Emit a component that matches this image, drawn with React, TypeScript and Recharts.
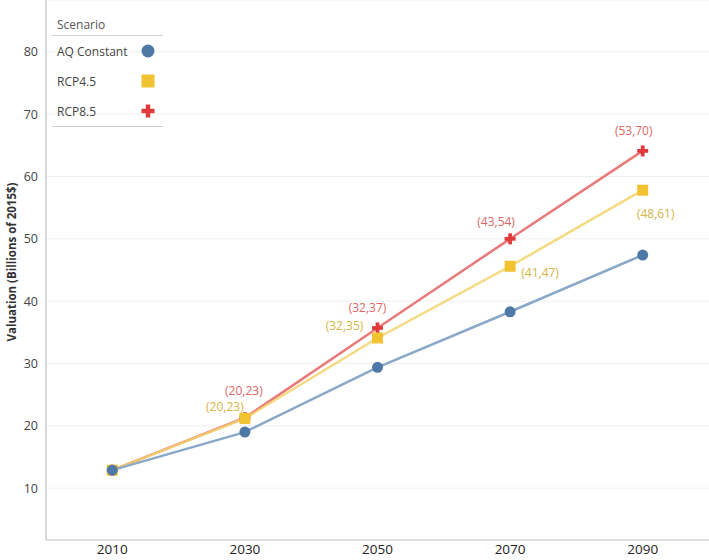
import React from "react";
import {
  LineChart,
  Line,
  XAxis,
  YAxis,
  CartesianGrid,
  Legend,
  LabelList,
} from "recharts";

const years = [2010, 2030, 2050, 2070, 2090];
const aqConstant = [12.9, 19.0, 29.4, 38.3, 47.4];
const rcp45 = [12.9, 21.2, 34.1, 45.6, 57.8];
const rcp85 = [12.9, 21.3, 35.7, 50.0, 64.1];
const rcp45Labels = ["", "(20,23)", "(32,35)", "(41,47)", "(48,61)"];
const rcp85Labels = ["", "(20,23)", "(32,37)", "(43,54)", "(53,70)"];
const yTicks = [10, 20, 30, 40, 50, 60, 70, 80];

const FONT = "'Open Sans', sans-serif";

// label placement around each point (dx, dy)
const offs45 = [[0, 0], [-20, -12], [-33, -12], [30, 6], [13, 23]];
const offs85 = [[0, 0], [-1, -27], [-10, -20], [-14, -17], [-9, -20]];

const data = years.map((year, i) => ({
  year,
  aq: aqConstant[i],
  r45: rcp45[i],
  r85: rcp85[i],
  l45: rcp45Labels[i],
  l85: rcp85Labels[i],
}));

const BLUE = "#4e79a7";
const GOLD = "#f1c232";
const RED = "#e03a3a";

function Marker({ kind, cx, cy, s = 11 }: { kind: string; cx: number; cy: number; s?: number }) {
  if (kind === "circle") return <circle cx={cx} cy={cy} r={s / 2} fill={BLUE} />;
  if (kind === "square")
    return <rect x={cx - s / 2} y={cy - s / 2} width={s} height={s} fill={GOLD} />;
  const t = s * 0.34;
  return (
    <g fill={RED}>
      <rect x={cx - s / 2} y={cy - t / 2} width={s} height={t} />
      <rect x={cx - t / 2} y={cy - s / 2} width={t} height={s} />
    </g>
  );
}

const dot = (kind: string) => (p: any) =>
  <Marker key={`${kind}-${p.index}`} kind={kind} cx={p.cx} cy={p.cy} />;

const pointLabel = (offs: number[][], color: string) => (p: any) => {
  if (!p.value) return null;
  const [dx, dy] = offs[p.index];
  return (
    <text
      x={p.x + dx}
      y={p.y + dy}
      textAnchor="middle"
      dominantBaseline="central"
      fill={color}
      fontSize={12}
      fontFamily={FONT}
    >
      {p.value}
    </text>
  );
};

const legendItems = [
  { name: "AQ Constant", kind: "circle" },
  { name: "RCP4.5", kind: "square" },
  { name: "RCP8.5", kind: "plus" },
];

function ScenarioLegend() {
  return (
    <div style={{ width: 111, fontFamily: FONT, fontSize: 12, color: "#444" }}>
      <div style={{ height: 20, lineHeight: "20px", paddingLeft: 5, color: "#555", borderBottom: "1px solid #cfcfcf" }}>
        Scenario
      </div>
      {legendItems.map((it) => (
        <div key={it.name} style={{ height: 30, display: "flex", alignItems: "center", paddingLeft: 5 }}>
          <span style={{ flex: 1 }}>{it.name}</span>
          <svg width={30} height={30}>
            <Marker kind={it.kind} cx={15} cy={15} s={13} />
          </svg>
        </div>
      ))}
      <div style={{ borderTop: "1px solid #cfcfcf" }} />
    </div>
  );
}

function YTitle() {
  const cx = 11;
  const cy = 262;
  return (
    <text
      x={cx}
      y={cy}
      transform={`rotate(-90, ${cx}, ${cy})`}
      textAnchor="middle"
      dominantBaseline="central"
      fontSize={11.5}
      fontWeight="bold"
      fontFamily={FONT}
      fill="#333"
    >
      Valuation (Billions of 2015$)
    </text>
  );
}

export default function App() {
  return (
    <div style={{ position: "absolute", left: 0, top: 0, background: "#fff" }}>
      <LineChart width={709} height={560} data={data} margin={{ top: 0, right: 0, bottom: 0, left: 0 }}>
        <CartesianGrid vertical={false} stroke="#efefef" />
        <XAxis
          dataKey="year"
          type="number"
          domain={[2000, 2100]}
          ticks={years}
          interval={0}
          height={20}
          tickLine={false}
          tickSize={3}
          tickMargin={1}
          axisLine={{ stroke: "#c8c8c8" }}
          tick={{ fill: "#222", fontSize: 13.5, fontFamily: FONT }}
        />
        <YAxis
          type="number"
          domain={[1.7, 88.3]}
          ticks={yTicks}
          allowDataOverflow
          width={46}
          tickLine={false}
          axisLine={{ stroke: "#b5b5b5" }}
          tick={{ fill: "#444", fontSize: 12.5, fontFamily: FONT }}
          label={<YTitle />}
        />
        <Legend
          layout="vertical"
          align="center"
          verticalAlign="middle"
          content={<ScenarioLegend />}
          wrapperStyle={{ left: 52, top: 15, width: 111 }}
        />
        <Line
          dataKey="r85"
          stroke="#e97a7a"
          strokeWidth={2.5}
          dot={dot("plus")}
          isAnimationActive={false}
        >
          <LabelList dataKey="l85" content={pointLabel(offs85, "#e06666")} />
        </Line>
        <Line
          dataKey="r45"
          stroke="#f3d36b"
          strokeOpacity={0.85}
          strokeWidth={2.5}
          dot={dot("square")}
          isAnimationActive={false}
        >
          <LabelList dataKey="l45" content={pointLabel(offs45, "#d6b445")} />
        </Line>
        <Line
          dataKey="aq"
          stroke="#8aa8c8"
          strokeWidth={2.5}
          dot={dot("circle")}
          isAnimationActive={false}
        />
      </LineChart>
    </div>
  );
}
